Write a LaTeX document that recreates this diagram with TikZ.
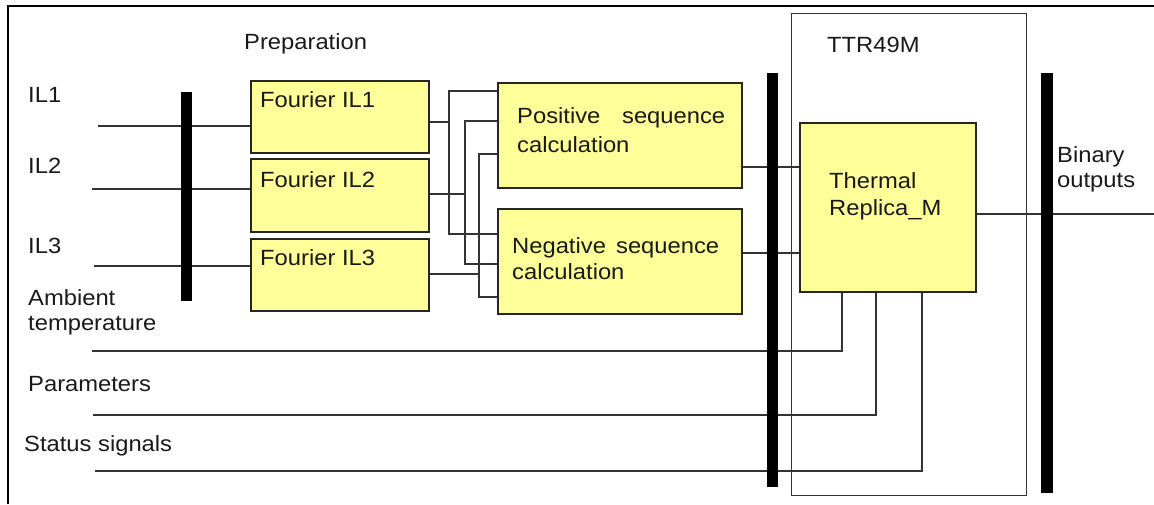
\documentclass[tikz,border=0pt]{standalone}
\usepackage{fontspec}
\setmainfont{Liberation Sans}[FakeStretch=1.08]
\usetikzlibrary{backgrounds}
\definecolor{boxyellow}{HTML}{FFFF99}
\begin{document}
\begin{tikzpicture}[x=1pt,y=-1pt,
  box/.style={draw=black!85, line width=1.8pt, fill=boxyellow, inner sep=0, anchor=north west},
  frame/.style={draw=black!80, line width=1.3pt, inner sep=0, anchor=north west},
  wire/.style={draw=black!80, line width=1.3pt},
  bar/.style={fill=black, draw=none, inner sep=0, anchor=north west},
  lbl/.style={anchor=base west, inner sep=0, font=\fontsize{22}{26}\selectfont, text=black!90}]
\useasboundingbox (0,0) rectangle (1154,504);
% outer frame
\draw[line width=2pt] (8,504) -- (8,6) -- (1154,6);
% boxes
\node[box, minimum width=178, minimum height=72] (f1) at (250,80) {};
\node[box, minimum width=178, minimum height=73] (f2) at (250,158) {};
\node[box, minimum width=178, minimum height=72] (f3) at (250,238) {};
\node[box, minimum width=244, minimum height=105] (pos) at (497,82) {};
\node[box, minimum width=244, minimum height=105] (neg) at (497,208) {};
\node[box, minimum width=176, minimum height=169] (tr) at (799,122) {};
% free ends
\coordinate (i1) at (98,126);
\coordinate (i2) at (92,189);
\coordinate (i3) at (94,266);
\coordinate (amb) at (92,351);
\coordinate (par) at (93,415);
\coordinate (sta) at (95,471);
\coordinate (out) at (1154,214);
\begin{scope}[on background layer]
\node[frame, minimum width=235, minimum height=482] (ttr) at (791,13) {};
\draw[wire] (i1) -- (i1 -| f1.west);
\draw[wire] (i2) -- (i2 -| f2.west);
\draw[wire] (i3) -- (i3 -| f3.west);
\draw[wire] (pos.west |- 0,91) -- (449,91) -- (449,234) -- (neg.west |- 0,234);
\draw[wire] (f1.east |- 0,122) -- (449,122);
\draw[wire] (pos.west |- 0,121) -- (465,121) -- (465,264) -- (neg.west |- 0,264);
\draw[wire] (f2.east |- 0,194) -- (465,194);
\draw[wire] (pos.west |- 0,154) -- (479,154) -- (479,297) -- (neg.west |- 0,297);
\draw[wire] (f3.east |- 0,274) -- (479,274);
\draw[wire] (pos.east |- 0,167) -- (tr.west |- 0,167);
\draw[wire] (neg.east |- 0,253) -- (tr.west |- 0,253);
\draw[wire] (tr.east |- out) -- (out);
\draw[wire] (amb) -- (842,351) -- (tr.south -| 842,0);
\draw[wire] (par) -- (876,415) -- (tr.south -| 876,0);
\draw[wire] (sta) -- (922,471) -- (tr.south -| 922,0);
\end{scope}
% bars
\node[bar, minimum width=11, minimum height=209] (b1) at (181,92) {};
\node[bar, minimum width=11, minimum height=414] (b2) at (767,73) {};
\node[bar, minimum width=12, minimum height=420] (b3) at (1041,73) {};
% labels
\node[lbl] (tprep) at (244,49) {Preparation};
\node[lbl] (tttr) at (827,52) {TTR49M};
\node[lbl] (til1) at (28,102) {IL1};
\node[lbl] (til2) at (28,173) {IL2};
\node[lbl] (til3) at (28,253) {IL3};
\node[lbl] (tamb1) at (28,305) {Ambient};
\node[lbl] (tamb2) at (28,330) {temperature};
\node[lbl] (tpar) at (28,391) {Parameters};
\node[lbl] (tsta) at (24,451) {Status signals};
\node[lbl] (tf1) at (260,107) {Fourier IL1};
\node[lbl] (tf2) at (260,187) {Fourier IL2};
\node[lbl] (tf3) at (260,265) {Fourier IL3};
\node[lbl] (tpos1) at (517,123) {\hbox to 208pt{Positive\hfill sequence}};
\node[lbl] (tpos2) at (517,152) {calculation};
\node[lbl] (tneg1) at (512,253) {\hbox to 207pt{Negative\hfill sequence}};
\node[lbl] (tneg2) at (512,279) {calculation};
\node[lbl] (tth1) at (829,188) {Thermal};
\node[lbl] (tth2) at (829,215) {Replica\_M};
\node[lbl] (tbin1) at (1057,162) {Binary};
\node[lbl] (tbin2) at (1057,187) {outputs};
\end{tikzpicture}
\end{document}
